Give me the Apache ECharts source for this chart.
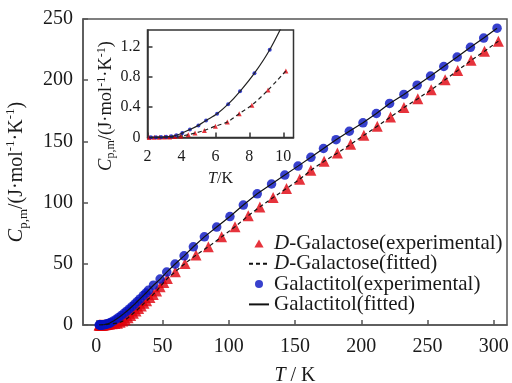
<!DOCTYPE html>
<html><head><meta charset="utf-8">
<script src="https://cdn.jsdelivr.net/npm/echarts@6/dist/echarts.min.js"></script>
<style>html,body{margin:0;padding:0;background:#fff}#c{width:512px;height:383px}</style>
</head><body><div id="c"></div>
<script>
// Galactitol (blue circles + solid fit)
const galactitolT = [2.2,2.5,2.8,3.1,3.4,3.7,4.05,4.5,5.0,5.45,6.1,6.75,7.45,8.3,9.2,10.2,11,13,15,17,19,21,23,25,27,29,31,33,35.5,37.5,39.4,43.2,48.2,53.2,59.5,66.3,73.3,81.6,90.9,100.9,111,121.5,132.3,142.3,152.3,162,171.5,181,191,201.3,211.4,221.4,232.2,242.2,252.3,262.3,272.4,282.4,292.4,302.5];
const galactitolCp = [0.002,0.004,0.006,0.01,0.016,0.03,0.06,0.105,0.16,0.225,0.315,0.44,0.61,0.85,1.16,1.6,2.0,3.3,4.7,6.2,7.8,9.5,11.3,13.1,15.1,17.1,19.2,21.3,24,26.1,28.3,32.5,37.5,43.2,49.8,56.5,63.9,72,80,88.6,98,107.2,115.2,122.5,129.8,137,144.2,151.4,158.3,165.2,172.8,181,188.4,195.9,203.4,211.2,218.9,226.9,234.4,242.5];
// D-Galactose (red triangles + dashed fit)
const galactoseT = [2.1,2.4,2.7,3.0,3.3,3.6,3.95,4.4,4.8,5.35,6.0,6.7,7.4,8.15,9.1,10.15,12,14,16,18,20,22,24,26,28,30,32,34,36,38,40.5,43,45.5,48.2,51,53.7,59.7,67,75.3,84.6,94.6,104.7,114.7,123.5,133.5,143.6,153.6,162,172,182,192,202,212.1,222.1,232.2,242.7,252.8,263.3,272.8,282.9,293,303.5];
const galactoseCp = [0.001,0.002,0.003,0.005,0.008,0.012,0.02,0.036,0.058,0.093,0.15,0.205,0.315,0.427,0.627,0.88,1.1,1.3,1.5,2.2,3.2,4.3,5.9,7.7,9.6,11.5,13.5,15.6,17.7,19.8,22.4,25,27.8,31.2,34.8,38,43.6,50.3,57.1,63.9,72,80.2,89.3,96.5,104.2,111.5,119.1,126.4,133.8,140.5,147.6,155,162.3,169.9,177.6,184.9,192.2,200.4,208,216.2,223.7,231.9];

const mainXTicks = [0,50,100,150,200,250,300];
const insetXTicks = [2,4,6,8,10];
const insetYTicks = [0,0.4,0.8,1.2];
const insetMaxT = 10.6;
const seriesNames = ['D-Galactose(experimental)','D-Galactose(fitted)','Galactitol(experimental)','Galactitol(fitted)'];

const pairs = (xs, ys) => xs.map((x, i) => [x, ys[i]]);
const pairsUpTo = (xs, ys, lim) => pairs(xs, ys).filter(p => p[0] <= lim);
const F = 'Liberation Serif';
const RED = '#e0000b', BLUE = '#0612c0', AX = '#555';

function axisCommon(color, tickVals, fs, margin) {
  return {
    type: 'value',
    axisLine: {show: true, onZero: false, lineStyle: {color: color, width: 1.5}},
    axisTick: {show: true, inside: true, length: 5, customValues: tickVals, lineStyle: {color: color, width: 1.5}},
    axisLabel: {customValues: tickVals, margin: margin, fontFamily: F, fontSize: fs, color: '#1a1a1a'},
    splitLine: {show: false}
  };
}
function titleRich(fs, ss, lh) {
  return {
    c: {fontFamily: F, fontStyle: 'italic', fontSize: fs, lineHeight: lh, fill: '#1a1a1a'},
    s: {fontFamily: F, fontSize: ss, lineHeight: ss, verticalAlign: 'bottom', fill: '#1a1a1a'},
    n: {fontFamily: F, fontSize: fs, lineHeight: lh, fill: '#1a1a1a'},
    u: {fontFamily: F, fontSize: ss, lineHeight: ss, verticalAlign: 'top', fill: '#1a1a1a'}
  };
}
const yTitle = '{c|C}{s|p,m}{n|/(J·mol}{u|-1}{n|·K}{u|-1}{n|)}';

const chart = echarts.init(document.getElementById('c'), null, {renderer: 'canvas'});
chart.setOption({
  animation: false,
  backgroundColor: '#fff',
  grid: [
    {left: 83, right: 5, top: 19, bottom: 58, show: true, borderColor: AX, borderWidth: 1.5, containLabel: false, outerBoundsMode: 'none'},
    {left: 147.5, width: 146, top: 30, height: 107.5, show: true, borderColor: '#333', borderWidth: 1.5, backgroundColor: '#fff', z: 3, containLabel: false, outerBoundsMode: 'none'}
  ],
  xAxis: [
    Object.assign(axisCommon(AX, mainXTicks, 20, 12), {gridIndex: 0, min: -10, max: 310,
      name: '{i|T}{n| / K}', nameLocation: 'middle', nameGap: 41,
      nameTextStyle: {rich: {i: {fontFamily: F, fontStyle: 'italic', fontSize: 20, color: '#1a1a1a'}, n: {fontFamily: F, fontSize: 20, color: '#1a1a1a'}}}}),
    Object.assign(axisCommon('#333', insetXTicks, 16, 11), {gridIndex: 1, min: 2, max: insetMaxT, z: 4,
      name: '{i|T}{n|/K}', nameLocation: 'middle', nameGap: 33,
      nameTextStyle: {rich: {i: {fontFamily: F, fontStyle: 'italic', fontSize: 16, color: '#1a1a1a'}, n: {fontFamily: F, fontSize: 16, color: '#1a1a1a'}}}})
  ],
  yAxis: [
    Object.assign(axisCommon(AX, null, 20, 10), {gridIndex: 0, min: 0, max: 250, interval: 50,
      axisTick: {show: true, inside: true, length: 5, lineStyle: {color: AX, width: 1.5}},
      axisLabel: {margin: 10, fontFamily: F, fontSize: 20, color: '#1a1a1a'}}),
    Object.assign(axisCommon('#333', insetYTicks, 16, 7), {gridIndex: 1, min: 0, max: 1.42, z: 4,
      axisLabel: {customValues: insetYTicks, margin: 7, fontFamily: F, fontSize: 16, color: '#1a1a1a',
        formatter: v => v === 0 ? '0' : v.toFixed(1)}})
  ],
  legend: {
    data: [
      {name: seriesNames[0], icon: 'path://M5,0L10,8.66L0,8.66Z'},
      {name: seriesNames[1], itemStyle: {opacity: 0}},
      {name: seriesNames[2], icon: 'circle'},
      {name: seriesNames[3], itemStyle: {opacity: 0}}
    ],
    orient: 'vertical', left: 243, top: 228,
    itemWidth: 20, itemHeight: 8, itemGap: -0.7, selectedMode: false, symbolKeepAspect: true,
    formatter: n => n.startsWith('D-') ? '{i|D}{n|' + n.slice(1) + '}' : '{n|' + n + '}',
    textStyle: {fontFamily: F, fontSize: 21, lineHeight: 20, color: '#1a1a1a',
      rich: {i: {fontFamily: F, fontStyle: 'italic', fontSize: 21, lineHeight: 20}, n: {fontFamily: F, fontSize: 21, lineHeight: 20}}}
  },
  graphic: [
    {type: 'text', x: 17, y: 172, rotation: Math.PI / 2, z: 10,
      style: {text: yTitle, rich: titleRich(20, 13, 26), align: 'center', verticalAlign: 'middle', fill: '#1a1a1a', fontFamily: F, fontSize: 20}},
    {type: 'text', x: 106, y: 106, rotation: Math.PI / 2, z: 10,
      style: {text: yTitle, rich: titleRich(18.5, 12, 21), align: 'center', verticalAlign: 'middle', fill: '#1a1a1a', fontFamily: F, fontSize: 18.5}}
  ],
  series: [
    {name: seriesNames[0], type: 'scatter', xAxisIndex: 0, yAxisIndex: 0, symbol: 'triangle', symbolSize: 11,
      itemStyle: {color: RED}, data: pairs(galactoseT, galactoseCp), z: 2},
    {name: seriesNames[1], type: 'line', xAxisIndex: 0, yAxisIndex: 0, symbol: 'none', showSymbol: false,
      lineStyle: {color: '#111', width: 1.2, type: [4, 3]}, itemStyle: {color: '#111'}, data: pairs(galactoseT, galactoseCp), z: 4},
    {name: seriesNames[2], type: 'scatter', xAxisIndex: 0, yAxisIndex: 0, symbol: 'circle', symbolSize: 9.5,
      itemStyle: {color: BLUE}, data: pairs(galactitolT, galactitolCp), z: 3},
    {name: seriesNames[3], type: 'line', xAxisIndex: 0, yAxisIndex: 0, symbol: 'none', showSymbol: false,
      lineStyle: {color: '#111', width: 1.2}, itemStyle: {color: '#111'}, data: pairs(galactitolT, galactitolCp), z: 5},
    // inset
    {name: seriesNames[0], type: 'scatter', xAxisIndex: 1, yAxisIndex: 1, symbol: 'triangle', symbolSize: 5, clip: true,
      itemStyle: {color: RED}, data: pairsUpTo(galactoseT, galactoseCp, insetMaxT), z: 6},
    {name: seriesNames[1], type: 'line', xAxisIndex: 1, yAxisIndex: 1, symbol: 'none', showSymbol: false, clip: true, smooth: 0.3,
      lineStyle: {color: '#222', width: 1.2, type: [4, 3]}, data: pairsUpTo(galactoseT, galactoseCp, insetMaxT), z: 7},
    {name: seriesNames[2], type: 'scatter', xAxisIndex: 1, yAxisIndex: 1, symbol: 'circle', symbolSize: 4, clip: true,
      itemStyle: {color: BLUE}, data: pairs(galactitolT, galactitolCp), z: 6},
    {name: seriesNames[3], type: 'line', xAxisIndex: 1, yAxisIndex: 1, symbol: 'none', showSymbol: false, clip: true, smooth: 0.3,
      lineStyle: {color: '#222', width: 1.2}, data: pairs(galactitolT, galactitolCp), z: 7}
  ]
});
</script></body></html>
